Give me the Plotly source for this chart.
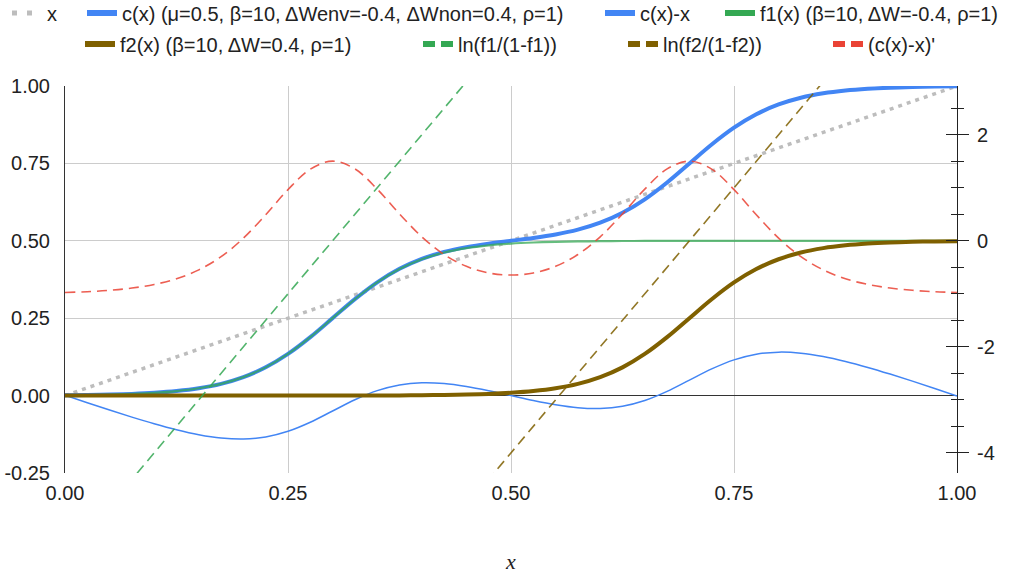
import plotly.graph_objects as go

# Sample positions on the horizontal axis
xs = [0.000, 0.025, 0.050, 0.075, 0.100, 0.125, 0.150, 0.175, 0.200, 0.225,
      0.250, 0.275, 0.300, 0.325, 0.350, 0.375, 0.400, 0.425, 0.450, 0.475,
      0.500, 0.525, 0.550, 0.575, 0.600, 0.625, 0.650, 0.675, 0.700, 0.725,
      0.750, 0.775, 0.800, 0.825, 0.850, 0.875, 0.900, 0.925, 0.950, 0.975, 1.000]

# Identity reference line
ident_x = [0.0, 1.0]
ident_y = [0.0, 1.0]

# c(x) with mu=0.5, beta=10, dWenv=-0.4, dWnon=0.4, rho=1
c_vals = [0.0012, 0.0020, 0.0033, 0.0055, 0.0090, 0.0147, 0.0237, 0.0379, 0.0596, 0.0913,
          0.1346, 0.1889, 0.2502, 0.3115, 0.3660, 0.4095, 0.4416, 0.4641, 0.4796, 0.4909,
          0.5000, 0.5091, 0.5204, 0.5359, 0.5584, 0.5905, 0.6340, 0.6885, 0.7498, 0.8111,
          0.8654, 0.9087, 0.9404, 0.9621, 0.9763, 0.9853, 0.9910, 0.9945, 0.9967, 0.9980, 0.9988]

# c(x) - x
cmx_vals = [0.0012, -0.0230, -0.0467, -0.0695, -0.0910, -0.1103, -0.1263, -0.1371, -0.1404, -0.1337,
            -0.1154, -0.0861, -0.0498, -0.0135, 0.0160, 0.0345, 0.0416, 0.0391, 0.0296, 0.0159,
            0.0000, -0.0159, -0.0296, -0.0391, -0.0416, -0.0345, -0.0160, 0.0135, 0.0498, 0.0861,
            0.1154, 0.1337, 0.1404, 0.1371, 0.1263, 0.1103, 0.0910, 0.0695, 0.0467, 0.0230, -0.0012]

# f1(x) and f2(x)
f1_vals = [0.0012, 0.0020, 0.0033, 0.0055, 0.0090, 0.0147, 0.0237, 0.0379, 0.0596, 0.0912,
           0.1345, 0.1888, 0.2500, 0.3112, 0.3655, 0.4088, 0.4404, 0.4621, 0.4763, 0.4853,
           0.4910, 0.4945, 0.4967, 0.4980, 0.4988, 0.4993, 0.4995, 0.4997, 0.4998, 0.4999,
           0.4999, 0.5000, 0.5000, 0.5000, 0.5000, 0.5000, 0.5000, 0.5000, 0.5000, 0.5000, 0.5000]
f2_vals = [0.0000, 0.0000, 0.0000, 0.0000, 0.0000, 0.0000, 0.0000, 0.0000, 0.0000, 0.0000,
           0.0001, 0.0001, 0.0002, 0.0003, 0.0005, 0.0007, 0.0012, 0.0020, 0.0033, 0.0055,
           0.0090, 0.0147, 0.0237, 0.0379, 0.0596, 0.0912, 0.1345, 0.1888, 0.2500, 0.3112,
           0.3655, 0.4088, 0.4404, 0.4621, 0.4763, 0.4853, 0.4910, 0.4945, 0.4967, 0.4980, 0.4988]

# Log-odds lines (right axis)
ln1_vals = [-6.0, -5.5, -5.0, -4.5, -4.0, -3.5, -3.0, -2.5, -2.0, -1.5,
            -1.0, -0.5, 0.0, 0.5, 1.0, 1.5, 2.0, 2.5, 3.0, 3.5,
            4.0, 4.5, 5.0, 5.5, 6.0, 6.5, 7.0, 7.5, 8.0, 8.5,
            9.0, 9.5, 10.0, 10.5, 11.0, 11.5, 12.0, 12.5, 13.0, 13.5, 14.0]
ln2_vals = [-14.0, -13.5, -13.0, -12.5, -12.0, -11.5, -11.0, -10.5, -10.0, -9.5,
            -9.0, -8.5, -8.0, -7.5, -7.0, -6.5, -6.0, -5.5, -5.0, -4.5,
            -4.0, -3.5, -3.0, -2.5, -2.0, -1.5, -1.0, -0.5, 0.0, 0.5,
            1.0, 1.5, 2.0, 2.5, 3.0, 3.5, 4.0, 4.5, 5.0, 5.5, 6.0]

# (c(x) - x)' (right axis)
dcmx_vals = [-0.975, -0.960, -0.934, -0.891, -0.823, -0.716, -0.548, -0.299, 0.050, 0.492,
             0.966, 1.352, 1.503, 1.356, 0.975, 0.507, 0.075, -0.259, -0.482, -0.607,
             -0.646, -0.607, -0.482, -0.259, 0.075, 0.507, 0.975, 1.356, 1.503, 1.352,
             0.966, 0.492, 0.050, -0.299, -0.548, -0.716, -0.823, -0.891, -0.934, -0.960, -0.975]

# Axis ticks
x_ticks = [0.0, 0.25, 0.5, 0.75, 1.0]
x_tick_text = ["0.00", "0.25", "0.50", "0.75", "1.00"]
y_ticks = [-0.25, 0.0, 0.25, 0.5, 0.75, 1.0]
y_tick_text = ["-0.25", "0.00", "0.25", "0.50", "0.75", "1.00"]
y2_ticks = [-4, -2, 0, 2]
y2_tick_text = ["-4", "-2", "0", "2"]
y2_minor = [-4.0, -3.5, -3.0, -2.5, -2.0, -1.5, -1.0, -0.5, 0.0, 0.5, 1.0, 1.5, 2.0, 2.5]

# Legend labels
names = [
    "x",
    "c(x) (μ=0.5, β=10, ΔWenv=-0.4, ΔWnon=0.4, ρ=1)",
    "c(x)-x",
    "f1(x) (β=10, ΔW=-0.4, ρ=1)",
    "f2(x) (β=10, ΔW=0.4, ρ=1)",
    "ln(f1/(1-f1))",
    "ln(f2/(1-f2))",
    "(c(x)-x)'",
]

BLUE = "#4285F4"
GREEN = "#34A853"
BROWN = "#7F6000"
RED = "#EA4335"
GREY = "#BDBDBD"

fig = go.Figure()

# Main series
fig.add_trace(go.Scatter(x=ident_x, y=ident_y, mode="lines",
                         line=dict(color=GREY, width=3.5, dash="4px,5px"), showlegend=False))
fig.add_trace(go.Scatter(x=xs, y=c_vals, mode="lines", line=dict(color=BLUE, width=4, shape="spline"),
                         showlegend=False))
fig.add_trace(go.Scatter(x=xs, y=cmx_vals, mode="lines", line=dict(color=BLUE, width=1.5, shape="spline"),
                         showlegend=False))
fig.add_trace(go.Scatter(x=xs, y=f1_vals, mode="lines", line=dict(color=GREEN, width=2.2, shape="spline"),
                         opacity=0.75, showlegend=False))
fig.add_trace(go.Scatter(x=xs, y=f2_vals, mode="lines", line=dict(color=BROWN, width=4, shape="spline"),
                         showlegend=False))
fig.add_trace(go.Scatter(x=xs, y=ln1_vals, mode="lines", yaxis="y2",
                         line=dict(color=GREEN, width=1.6, dash="10px,6px"), opacity=0.85, showlegend=False))
fig.add_trace(go.Scatter(x=xs, y=ln2_vals, mode="lines", yaxis="y2",
                         line=dict(color=BROWN, width=1.6, dash="10px,6px"), opacity=0.85, showlegend=False))
fig.add_trace(go.Scatter(x=xs, y=dcmx_vals, mode="lines", yaxis="y2",
                         line=dict(color=RED, width=1.6, dash="10px,6px", shape="spline"), opacity=0.85,
                         showlegend=False))
# Empty trace so the crossing-tick axis is built
fig.add_trace(go.Scatter(x=[], y=[], yaxis="y3", showlegend=False, hoverinfo="skip"))

# Legend swatches (no data, only legend icons)
swatches = [
    dict(color=GREY, width=5, dash="5px,10px"),
    dict(color=BLUE, width=6),
    dict(color=BLUE, width=6),
    dict(color=GREEN, width=6),
    dict(color=BROWN, width=6),
    dict(color=GREEN, width=6, dash="12px,6px"),
    dict(color=BROWN, width=6, dash="12px,6px"),
    dict(color=RED, width=6, dash="12px,6px"),
]
legend_ids = ["legend"] + ["legend%d" % i for i in range(2, 9)]
for nm, ln, lid in zip(names, swatches, legend_ids):
    fig.add_trace(go.Scatter(x=[None], y=[None], mode="lines", name=nm, line=ln,
                             legend=lid, showlegend=True))

# Legend placement: text start (px) and row centre (px)
text_start = [47, 122, 640, 760, 120, 458, 663, 868]
row_y = [13, 13, 13, 13, 44, 44, 44, 44]
PL, PR, PT, PB = 65, 55, 86, 104
W, H = 1012, 577
pw, ph = W - PL - PR, H - PT - PB

legend_layout = {}
for lid, tx, ry in zip(legend_ids, text_start, row_y):
    legend_layout[lid] = dict(
        orientation="h", x=(tx - 40 - PL) / pw, xanchor="left",
        y=(H - PB - ry) / ph, yanchor="middle",
        bgcolor="rgba(0,0,0,0)", font=dict(size=20, color="#222"),
        itemclick=False, itemdoubleclick=False,
    )

fig.update_layout(
    width=W, height=H,
    margin=dict(l=PL, r=PR, t=PT, b=PB, autoexpand=False),
    paper_bgcolor="white", plot_bgcolor="white",
    font=dict(family="Liberation Sans, Arial, sans-serif", size=20, color="#222"),
    showlegend=True,
    **legend_layout,
    xaxis=dict(range=[0, 1], tickvals=x_ticks, ticktext=x_tick_text, showgrid=True,
               gridcolor="#cccccc", gridwidth=1, zeroline=False, showline=False, ticks="",
               ticklabelstandoff=6,
               title=dict(text="<i>x</i>", font=dict(family="Liberation Serif, Times New Roman, serif",
                                                    size=22, color="#222"), standoff=50)),
    yaxis=dict(range=[-0.25, 1], tickvals=y_ticks, ticktext=y_tick_text, showgrid=True,
               gridcolor="#cccccc", gridwidth=1, zeroline=True, zerolinecolor="#333",
               zerolinewidth=1, showline=True, linecolor="#333", linewidth=1, ticks="",
               ticklabelstandoff=10),
    yaxis2=dict(overlaying="y", side="right", range=[-4.38, 2.92], tickvals=y2_ticks,
                ticktext=y2_tick_text, showgrid=False, zeroline=False, showline=True,
                linecolor="#222", linewidth=1, ticks="outside", ticklen=11, tickcolor="#222",
                ticklabelstandoff=4,
                minor=dict(tickvals=y2_minor, ticks="outside", ticklen=6, tickcolor="#222", showgrid=False)),
    yaxis3=dict(overlaying="y", side="right", range=[-4.38, 2.92], tickvals=y2_ticks,
                showticklabels=False, showgrid=False, zeroline=False, showline=False,
                ticks="inside", ticklen=11, tickcolor="#222",
                minor=dict(tickvals=y2_minor, ticks="inside", ticklen=6, tickcolor="#222", showgrid=False)),
)

fig.write_html("out.html")
